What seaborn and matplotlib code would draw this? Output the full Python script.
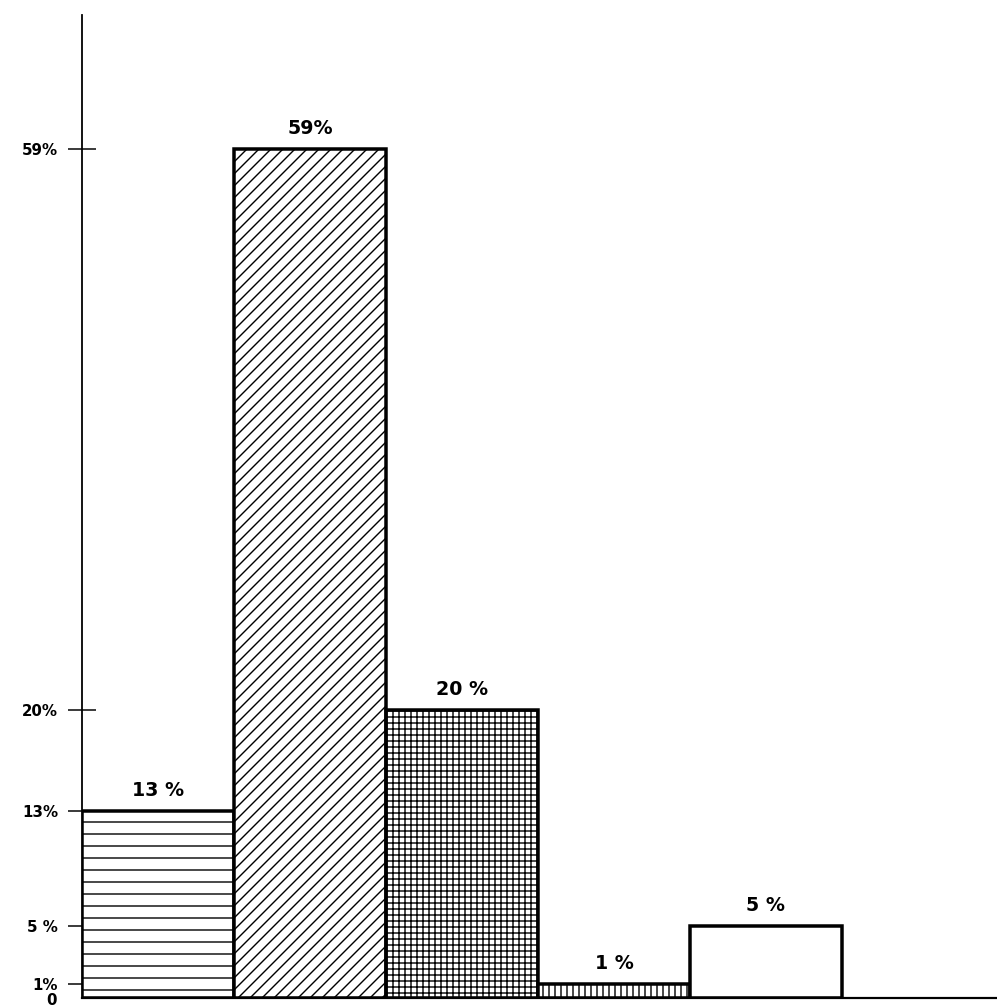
import matplotlib
matplotlib.use("Agg")
import matplotlib.pyplot as plt
import seaborn as sns
import pandas as pd

categories = ["A", "B", "C", "D", "E"]
values = [13, 59, 20, 1, 5]
bar_labels = ["13 %", "59%", "20 %", "1 %", "5 %"]
hatches = ["-", "//", "++", "||", ""]
tick_values = [1, 5, 13, 20, 59]
tick_labels = ["1%", "5 %", "13%", "20%", "59%"]

sns.set_theme(style="white")
plt.rcParams['font.family'] = ['DejaVu Sans']
plt.rcParams['hatch.linewidth'] = 1.4
plt.rcParams['hatch.color'] = 'black'

DPI = 72
fig = plt.figure(figsize=(997 / DPI, 1007 / DPI), dpi=DPI)
ax = fig.add_axes([82 / 997, 1 - 998 / 1007, 1 - 82 / 997, (998 - 15) / 1007])

df = pd.DataFrame({"cat": categories, "val": values})
sns.barplot(data=df, x="cat", y="val", color="white", width=1.0,
            edgecolor="black", linewidth=3.5, saturation=1, ax=ax)

for patch, h in zip(ax.patches, hatches):
    patch.set_hatch(h)
    patch.set_facecolor("white")
    patch.set_edgecolor("black")

ax.bar_label(ax.containers[0], labels=bar_labels, padding=11,
             fontsize=19, fontweight="bold", color="black")

ax.set_xlim(-0.5, 5.52)
ax.set_ylim(0, 68.3)
ax.set_xticks([])
ax.set_xlabel("")
ax.set_ylabel("")
ax.set_yticks(tick_values)
ax.set_yticklabels(tick_labels, fontsize=15, fontweight="bold", color="black")
ax.tick_params(axis="y", direction="inout", length=28, width=1.5, pad=10,
               left=True, colors="black", labelcolor="black")
for s in ["top", "right"]:
    ax.spines[s].set_visible(False)
ax.spines["left"].set_linewidth(1.8)
ax.spines["bottom"].set_linewidth(2.2)
ax.spines["left"].set_color("black")
ax.spines["bottom"].set_color("black")
ax.text(-0.028, -0.2, "0", transform=ax.get_yaxis_transform(), fontsize=15,
        fontweight="bold", ha="right", va="center", color="black")

fig.savefig("out.png", dpi=DPI, facecolor="white")
